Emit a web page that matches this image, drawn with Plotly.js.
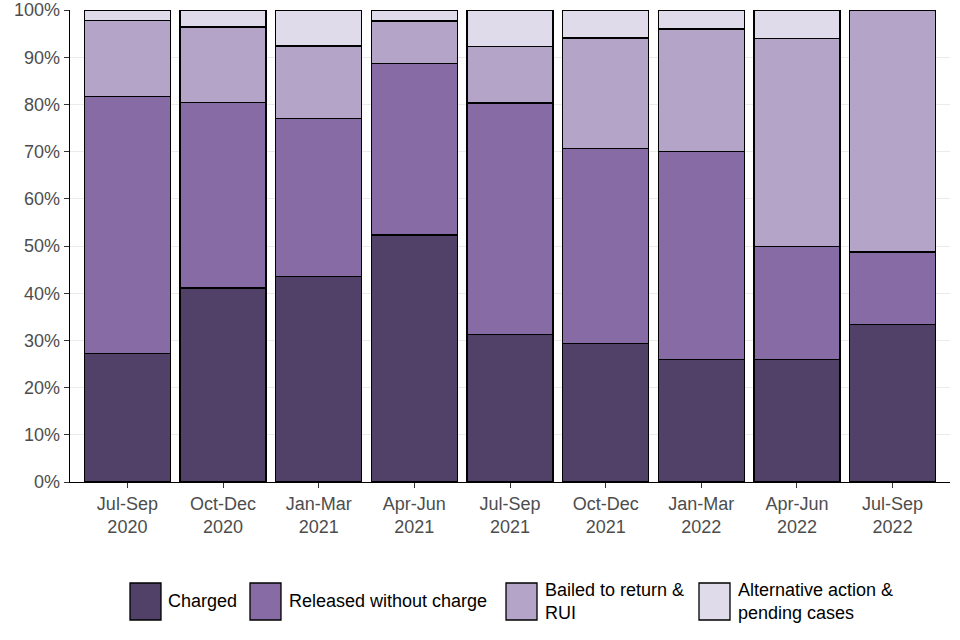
<!DOCTYPE html>
<html>
<head>
<meta charset="utf-8">
<script src="https://cdn.plot.ly/plotly-3.0.1.min.js"></script>
<style>html,body{margin:0;padding:0;background:#fff;}#chart{width:960px;height:640px;}</style>
</head>
<body>
<div id="chart"></div>
<script>
const categories = ["Jul-Sep<br>2020","Oct-Dec<br>2020","Jan-Mar<br>2021","Apr-Jun<br>2021","Jul-Sep<br>2021","Oct-Dec<br>2021","Jan-Mar<br>2022","Apr-Jun<br>2022","Jul-Sep<br>2022"];
const charged = [27.2, 41.1, 43.5, 52.3, 31.3, 29.4, 26.0, 26.0, 33.3];
const released = [54.5, 39.3, 33.5, 36.4, 49.0, 41.3, 44.0, 23.9, 15.4];
const bailed = [16.1, 16.0, 15.4, 9.0, 12.0, 23.4, 26.0, 44.1, 51.3];
const alternative = [2.2, 3.6, 7.6, 2.3, 7.7, 5.9, 4.0, 6.0, 0.0];
const seriesNames = ["Charged", "Released without charge", "Bailed to return &<br>RUI", "Alternative action &<br>pending cases"];
const seriesColors = ["#514068", "#876ba4", "#b4a4c8", "#e0dbea"];
const yTickVals = [0,10,20,30,40,50,60,70,80,90,100];
const yTickText = ["0%","10%","20%","30%","40%","50%","60%","70%","80%","90%","100%"];

const seriesData = [charged, released, bailed, alternative];
const traces = seriesData.map((vals, i) => ({
  type: "bar",
  name: seriesNames[i],
  x: categories.map((c, k) => k),
  y: vals,
  marker: {color: seriesColors[i], line: {color: "#000000", width: 1.3}},
  showlegend: false,
  hoverinfo: "y"
}));

// Legend drawn as shapes + annotations (keys in paper coordinates)
const W = 960, H = 640, ml = 70, mr = 10, mt = 10, mb = 158;
const pw = W - ml - mr, ph = H - mt - mb;
const px = x => (x - ml) / pw;
const py = y => (H - mb - y) / ph;
const keyLeft = [130, 250, 506, 699];
const textLeft = [166, 287, 543, 736];
const shapes = [], annotations = [];
seriesNames.forEach((n, i) => {
  shapes.push({type: "rect", xref: "paper", yref: "paper",
    x0: px(keyLeft[i]), x1: px(keyLeft[i] + 31), y0: py(620), y1: py(583),
    fillcolor: seriesColors[i], line: {color: "#000000", width: 1.3}});
  annotations.push({xref: "paper", yref: "paper", x: px(textLeft[i]), y: py(601),
    xanchor: "left", yanchor: "middle", align: "left", showarrow: false,
    text: n, font: {family: "Liberation Sans, Arial, sans-serif", size: 18, color: "#000000"}});
});

const layout = {
  width: W, height: H,
  margin: {l: ml, r: mr, t: mt, b: mb},
  paper_bgcolor: "#ffffff", plot_bgcolor: "#ffffff",
  barmode: "stack", bargap: 0.1,
  font: {family: "Liberation Sans, Arial, sans-serif", size: 18, color: "#4d4d4d"},
  showlegend: false,
  xaxis: {
    tickmode: "array", tickvals: categories.map((c, k) => k), ticktext: categories,
    range: [-0.6, 8.6], showgrid: false, zeroline: false,
    showline: true, linecolor: "#000000", linewidth: 1.3,
    ticks: "outside", ticklen: 5, tickcolor: "#333333", tickwidth: 1,
    tickfont: {size: 18, color: "#4d4d4d"}
  },
  yaxis: {
    range: [0, 100], tickmode: "array", tickvals: yTickVals, ticktext: yTickText,
    showgrid: true, gridcolor: "#ebebeb", gridwidth: 1, zeroline: false,
    showline: true, linecolor: "#000000", linewidth: 1.3,
    ticks: "outside", ticklen: 5, tickcolor: "#333333", tickwidth: 1,
    tickfont: {size: 18, color: "#4d4d4d"}
  },
  shapes: shapes,
  annotations: annotations
};

Plotly.newPlot("chart", traces, layout, {displayModeBar: false, staticPlot: true});
</script>
</body>
</html>
